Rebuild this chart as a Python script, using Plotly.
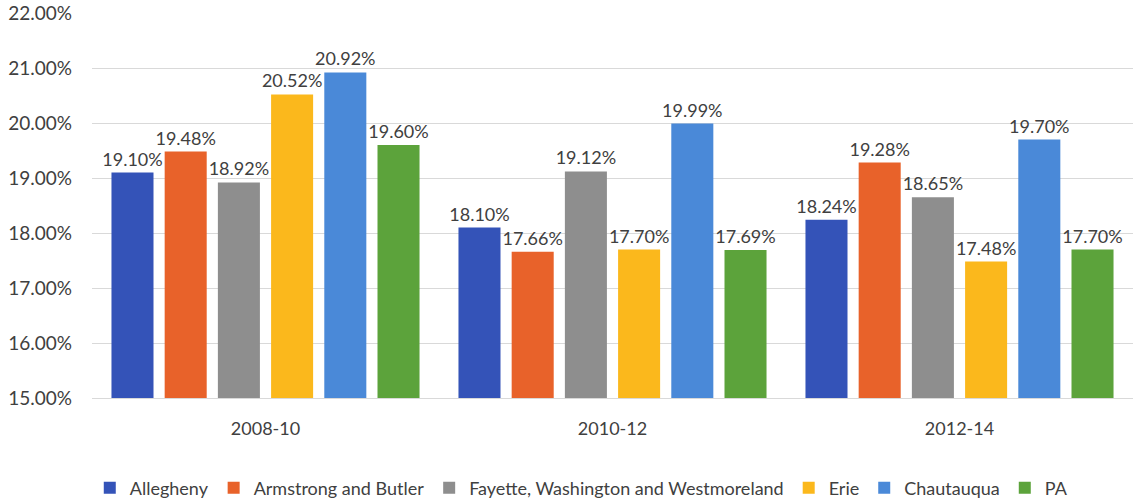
import plotly.graph_objects as go

categories = ["2008-10", "2010-12", "2012-14"]
series_names = ["Allegheny", "Armstrong and Butler", "Fayette, Washington and Westmoreland",
                "Erie", "Chautauqua", "PA"]
allegheny = [0.1910, 0.1810, 0.1824]
armstrong_butler = [0.1948, 0.1766, 0.1928]
fayette_wash_west = [0.1892, 0.1912, 0.1865]
erie = [0.2052, 0.1770, 0.1748]
chautauqua = [0.2092, 0.1999, 0.1970]
pa = [0.1960, 0.1769, 0.1770]
colors = ["#3453B8", "#E8622A", "#8E8E8E", "#FBB81C", "#4A89D8", "#5CA33B"]

series_values = [allegheny, armstrong_butler, fayette_wash_west, erie, chautauqua, pa]

FONT = "Lato, Open Sans, sans-serif"

fig = go.Figure()
for name, vals, col in zip(series_names, series_values, colors):
    fig.add_trace(go.Bar(
        x=categories, y=vals, name=name,
        marker=dict(color=col, line=dict(width=0)),
        text=[f"{v*100:.2f}%" for v in vals],
        textposition="outside",
        textfont=dict(size=18, color="#404040", family=FONT),
        cliponaxis=False,
    ))

fig.update_layout(
    width=1138, height=500,
    margin=dict(l=92, r=5, t=13, b=102, autoexpand=False),
    paper_bgcolor="white", plot_bgcolor="white",
    barmode="group", bargap=0.08, bargroupgap=0.21,
    font=dict(family=FONT, size=18, color="#404040"),
    uniformtext=dict(minsize=18, mode="show"),
    showlegend=True,
    legend=dict(orientation="h", x=0.47, xanchor="center", y=-0.234, yanchor="middle",
                font=dict(size=18, color="#404040"), itemwidth=30,
                traceorder="normal"),
)
fig.update_yaxes(range=[0.15, 0.22], dtick=0.01, tickformat=".2%",
                 showgrid=True, gridcolor="#D9D9D9", gridwidth=1,
                 zeroline=False, ticks="", ticklabelstandoff=19, automargin=False,
                 tickfont=dict(size=19, color="#404040"))
fig.update_xaxes(type="category", showline=True, linecolor="#D9D9D9", linewidth=1,
                 ticks="", ticklabelstandoff=14, automargin=False,
                 tickfont=dict(size=18, color="#404040"))

fig.write_html(
    "out.html",
    config={"displayModeBar": False},
    post_script="document.body.style.margin='0';document.body.style.overflow='hidden';",
)
